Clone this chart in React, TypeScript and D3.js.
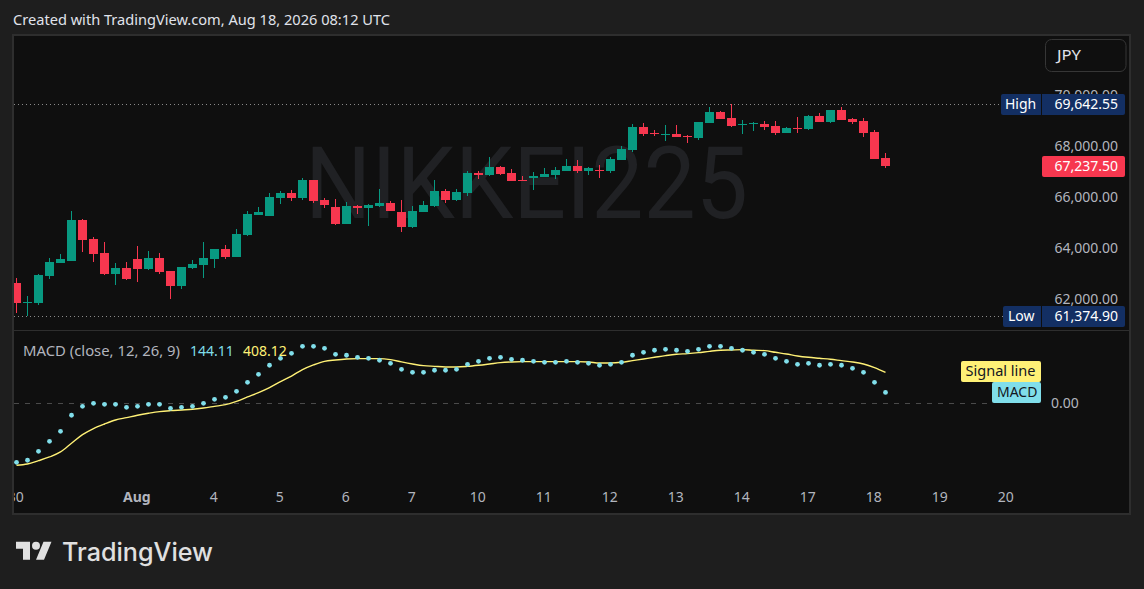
import React from "react";
import * as d3 from "d3";

const opens = [62664,61882,61882,62937,63445,63523,65124,64382,63835,63015,63249,63601,63210,63640,63132,62546,63249,63367,63601,63991,63679,64538,65319,65280,65983,66178,65983,66686,65905,65632,64968,65671,65593,65671,65788,65436,64851,65436,65671,66256,65905,66178,66959,66881,67194,66959,66686,66764,66803,66881,67038,67233,67038,67077,67038,67467,67858,68756,68522,68444,68483,68404,68326,68912,69342,69107,68834,68873,68873,68795,68522,68717,68678,69186,68951,69420,69068,68990,68561,67545];
const highs = [62859,62156,63015,63640,63796,65475,65163,64460,64265,63445,63484,64108,63913,63835,63132,63288,63562,64265,63991,64147,64773,65475,65632,66178,66256,66295,66764,66686,65983,65944,65827,65710,65749,66335,65866,65905,65671,65866,66686,66335,66335,67038,67038,67584,67233,67116,66842,66998,67155,67194,67506,67467,67194,67272,67584,68014,68873,68912,68639,68834,68834,68444,68951,69537,69381,69642.55,69029,68951,68990,68990,68756,69146,69225,69303,69420,69537,69107,69107,68639,67741];
const lows = [61492,61374.9,61804,62820,63445,63523,63874,63484,62976,62585,62781,62703,63171,63015,62039,62429,63210,62859,63249,63601,63679,64499,65319,65280,65749,65866,65905,65788,65593,64929,64968,65358,64890,65632,65475,64655,64812,65436,65632,65788,65866,66061,66725,66842,66881,66647,66647,66295,66803,66725,67038,66959,66881,66764,66959,67467,67780,68404,68404,68209,68365,68131,68248,68912,69068,68756,68483,68600,68639,68444,68522,68522,68639,68951,68912,69029,68873,68365,67506,67155];
const closes = [61882,61921,62976,63484,63601,65124,64343,63796,63015,63249,62820,63210,63640,63093,62546,63288,63406,63640,63991,63679,64577,65358,65436,66022,66178,65983,66686,65866,65710,64968,65671,65593,65710,65788,65475,64851,65475,65710,66256,65905,66217,66959,66881,67194,66920,66647,66647,66842,66920,67077,67233,67038,67155,67038,67506,67897,68756,68483,68483,68483,68365,68365,68951,69342,69068,68795,68873,68912,68756,68522,68717,68678,69186,68951,69420,69029,68951,68522,67506,67237.5];
const macdValues = [-779,-752,-634,-502,-370,-158,-40,0,-13,-13,-53,-40,-13,-13,-66,-53,-40,0,53,79,158,277,383,502,594,660,752,752,726,647,634,607,594,568,528,449,409,409,436,436,449,515,554,594,607,581,568,554,541,541,554,541,528,502,515,541,634,673,700,713,700,686,713,752,752,726,700,673,647,594,554,515,528,502,515,502,462,409,277,144.11];
const signalValues = [-818,-801,-757,-708,-642,-528,-414,-334,-273,-220,-189,-158,-132,-110,-97,-88,-79,-62,-40,-18,26,84,141,207,286,360,444,506,554,572,585,590,590,590,576,546,519,497,488,480,480,488,502,519,537,546,550,550,550,550,550,550,546,532,532,541,563,585,607,629,647,656,669,686,700,704,708,700,695,673,651,625,607,594,581,563,546,519,471,408.12];
const tickIndexes = [0,11,18,24,30,36,42,48,54,60,66,72,78,84,90];
const tickLabels = ["30","Aug","4","5","6","7","10","11","12","13","14","17","18","19","20"];
const priceTicks = [70000,68000,66000,64000,62000];
const HIGH = 69642.55, LOW = 61374.9, LAST = 67237.5;

const UI = "'Noto Sans', 'Open Sans', sans-serif";
const fmt = d3.format(",.2f");

const x = d3.scaleLinear().domain([0, 90]).range([16.5, 1006.5]);
const y = d3.scaleLinear().domain([LOW, HIGH]).range([316, 104.3]);
const yM = d3.scaleLinear().domain([-1000, 1000]).range([479.06, 327.54]);
const UP = "#089981", DOWN = "#F7374F", CYAN = "#80DEEA", YEL = "#FFF176";

const signalPath = d3.line<number>().x((_, i) => x(i)).y(d => yM(d)).curve(d3.curveMonotoneX)(signalValues) as string;

export default function App() {
  return (
    <svg width={1144} height={589} style={{ position: "fixed", left: 0, top: 0, display: "block" }} fontFamily={UI}>
      <defs>
        <clipPath id="plot"><rect x={14} y={36} width={1115} height={477} /></clipPath>
      </defs>
      <rect width={1144} height={589} fill="#1E1E1E" />
      <text x={13} y={24.5} fontSize={14} fill="#E0E3EB" textLength={377} lengthAdjust="spacingAndGlyphs">Created with TradingView.com, Aug 18, 2026 08:12 UTC</text>
      <rect x={13} y={35} width={1117} height={479} fill="#0F0F0F" stroke="#2E2E2E" strokeWidth={2} />
      <line x1={14} x2={1129} y1={330.5} y2={330.5} stroke="#2E2E2E" />

      <text x={305} y={218} fontSize={100} fill="#202124" fontFamily="Roboto, sans-serif" textLength={443} lengthAdjust="spacingAndGlyphs">NIKKEI225</text>

      <line x1={14} x2={1001} y1={104.5} y2={104.5} stroke="#8A8A8A" strokeDasharray="1 3" />
      <line x1={14} x2={1003} y1={316.5} y2={316.5} stroke="#8A8A8A" strokeDasharray="1 3" />
      <line x1={14} x2={992} y1={403.5} y2={403.5} stroke="#4A4A4A" strokeDasharray="5 6" />

      <g clipPath="url(#plot)" shapeRendering="crispEdges">
        {opens.map((o, i) => {
          const c = closes[i];
          const col = c >= o ? UP : DOWN;
          const top = Math.round(y(Math.max(o, c)));
          const bot = Math.round(y(Math.min(o, c)));
          const cx = x(i);
          return (
            <g key={i} fill={col}>
              <rect x={cx - 0.5} width={1} y={Math.round(y(highs[i]))} height={Math.max(1, Math.round(y(lows[i])) - Math.round(y(highs[i])))} />
              <rect x={cx - 4.5} width={9} y={top} height={Math.max(1, bot - top)} />
            </g>
          );
        })}
      </g>

      <g clipPath="url(#plot)">
        <text x={23} y={356} fontSize={14} fill="#B2B5BE" textLength={157} lengthAdjust="spacingAndGlyphs">MACD (close, 12, 26, 9)</text>
        <text x={190} y={356} fontSize={14} fill={CYAN}>{fmt(macdValues[79])}</text>
        <text x={243} y={356} fontSize={14} fill={YEL}>{fmt(signalValues[79])}</text>
        <path d={signalPath} fill="none" stroke={YEL} strokeWidth={1.4} />
        {macdValues.map((v, i) => <circle key={i} cx={x(i)} cy={yM(v)} r={2.4} fill={CYAN} />)}
        {tickIndexes.map((t, i) => (
          <text key={t} x={x(t) - 0.7} y={502} fontSize={14} textAnchor="middle" fill="#B2B5BE" fontWeight={tickLabels[i] === "Aug" ? 700 : 400}>{tickLabels[i]}</text>
        ))}
      </g>

      {priceTicks.map(p => (
        <text key={p} x={1118} y={y(p) + 4.5} fontSize={14} textAnchor="end" fill="#B2B5BE">{fmt(p)}</text>
      ))}
      <text x={1051} y={408} fontSize={14} fill="#B2B5BE">0.00</text>

      <rect x={1045.5} y={39.5} width={80.5} height={32} rx={6} fill="#0F0F0F" stroke="#363636" />
      <text x={1057} y={60} fontSize={14} fill="#E0E3EB" textLength={24} lengthAdjust="spacingAndGlyphs">JPY</text>

      <rect x={1001} y={94} width={124} height={21} rx={2} fill="#132F63" />
      <line x1={1041.5} x2={1041.5} y1={94} y2={115} stroke="#0F0F0F" />
      <text x={1005} y={109} fontSize={14} fill="#FFFFFF">High</text>
      <text x={1118} y={109} fontSize={14} textAnchor="end" fill="#FFFFFF">{fmt(HIGH)}</text>

      <rect x={1042} y={156} width={83} height={21} rx={2} fill={DOWN} />
      <text x={1118} y={171} fontSize={14} textAnchor="end" fill="#FFFFFF">{fmt(LAST)}</text>

      <rect x={1003} y={306} width={122} height={21} rx={2} fill="#132F63" />
      <line x1={1041.5} x2={1041.5} y1={306} y2={327} stroke="#0F0F0F" />
      <text x={1008} y={321} fontSize={14} fill="#FFFFFF">Low</text>
      <text x={1118} y={321} fontSize={14} textAnchor="end" fill="#FFFFFF">{fmt(LOW)}</text>

      <rect x={961} y={361} width={80} height={21} rx={2} fill={YEL} />
      <text x={965.5} y={376} fontSize={14} fill="#131722" textLength={70} lengthAdjust="spacingAndGlyphs">Signal line</text>
      <rect x={992} y={382} width={49} height={21} rx={2} fill={CYAN} />
      <text x={997} y={397} fontSize={14} fill="#131722">MACD</text>

      <g transform="translate(16,537.7)" fill="#E0E0E0">
        <path d="M14 22H7V11H0V4h14v18zM28 22h-8l7.5-18h8L28 22z" />
        <circle cx={20} cy={8} r={4} />
      </g>
      <text x={62} y={560.5} fontSize={25} fontWeight={500} fill="#E0E0E0" fontFamily="Inter, sans-serif" textLength={151} lengthAdjust="spacingAndGlyphs">TradingView</text>
    </svg>
  );
}
